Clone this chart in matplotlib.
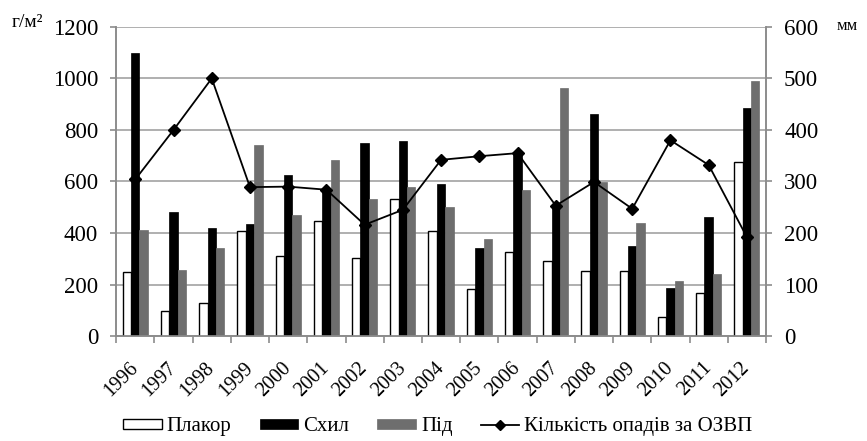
import matplotlib
matplotlib.use("Agg")
import matplotlib.pyplot as plt
import numpy as np

years = ["1996", "1997", "1998", "1999", "2000", "2001", "2002", "2003", "2004",
         "2005", "2006", "2007", "2008", "2009", "2010", "2011", "2012"]
plakor = [247, 97, 127, 409, 312, 448, 301, 532, 409, 183, 326, 292, 251, 251, 74, 169, 675]
skhyl = [1100, 483, 421, 434, 627, 565, 751, 758, 591, 340, 714, 506, 860, 348, 186, 461, 886]
pid = [412, 257, 342, 740, 470, 682, 532, 578, 502, 375, 567, 962, 597, 439, 214, 240, 991]
opady = [304, 400, 500, 289, 290, 284, 216, 245, 342, 349, 355, 253, 299, 247, 380, 332, 192]

plt.rcParams['font.family'] = ['Liberation Serif', 'DejaVu Serif']

fig = plt.figure(figsize=(8.67, 4.41), dpi=100)
ax = fig.add_axes([0.134, 0.238, 0.7495, 0.701])
ax2 = ax.twinx()

x = np.arange(len(years))
w = 0.22
b1 = ax.bar(x - w, plakor, w, color='white', edgecolor='black', linewidth=1.0, label='Плакор', zorder=3)
b2 = ax.bar(x, skhyl, w, color='black', edgecolor='black', linewidth=0.5, label='Схил', zorder=3)
b3 = ax.bar(x + w, pid, w, color='#6e6e6e', edgecolor='#6e6e6e', linewidth=0.5, label='Під', zorder=3)

ax.set_xlim(-0.5, len(years) - 0.5)
ax.set_ylim(0, 1200)
ax.set_yticks(range(0, 1201, 200))
ax.grid(axis='y', color='#9a9a9a', linewidth=1.1, zorder=0)
ax.set_axisbelow(True)

ax2.set_ylim(0, 600)
ax2.set_yticks(range(0, 601, 100))
l, = ax2.plot(x, opady, color='black', marker='D', markersize=6, linewidth=1.3,
              label='Кількість опадів за ОЗВП', zorder=5)

for a in (ax, ax2):
    a.spines['top'].set_visible(False)
    for s in ('left', 'right', 'bottom'):
        a.spines[s].set_color('#8c8c8c')
        a.spines[s].set_linewidth(1.2)
    a.tick_params(axis='y', labelsize=16.5, length=4, color='#8c8c8c', width=1.2, pad=9)

ax.set_xticks(x)
ax.set_xticklabels(years, rotation=45, ha='right', va='center', rotation_mode='anchor', fontsize=14.5)
ax.tick_params(axis='x', length=0, pad=21)
ax.set_xticks(np.arange(-0.5, len(years), 1), minor=True)
ax.tick_params(axis='x', which='minor', length=5, color='#8c8c8c', width=1.2)

fig.text(0.014, 0.939, 'г/м²', fontsize=14, ha='left', va='baseline')
fig.text(0.965, 0.932, 'мм', fontsize=12, ha='left', va='baseline')

fig.legend(handles=[b1, b2, b3, l], loc='center', bbox_to_anchor=(0.505, 0.032),
           ncol=4, frameon=False, fontsize=15, handlelength=1.85, handleheight=0.4,
           handletextpad=0.25, columnspacing=1.35, borderaxespad=0, markerscale=0.8)

fig.savefig('out.png', dpi=100)
